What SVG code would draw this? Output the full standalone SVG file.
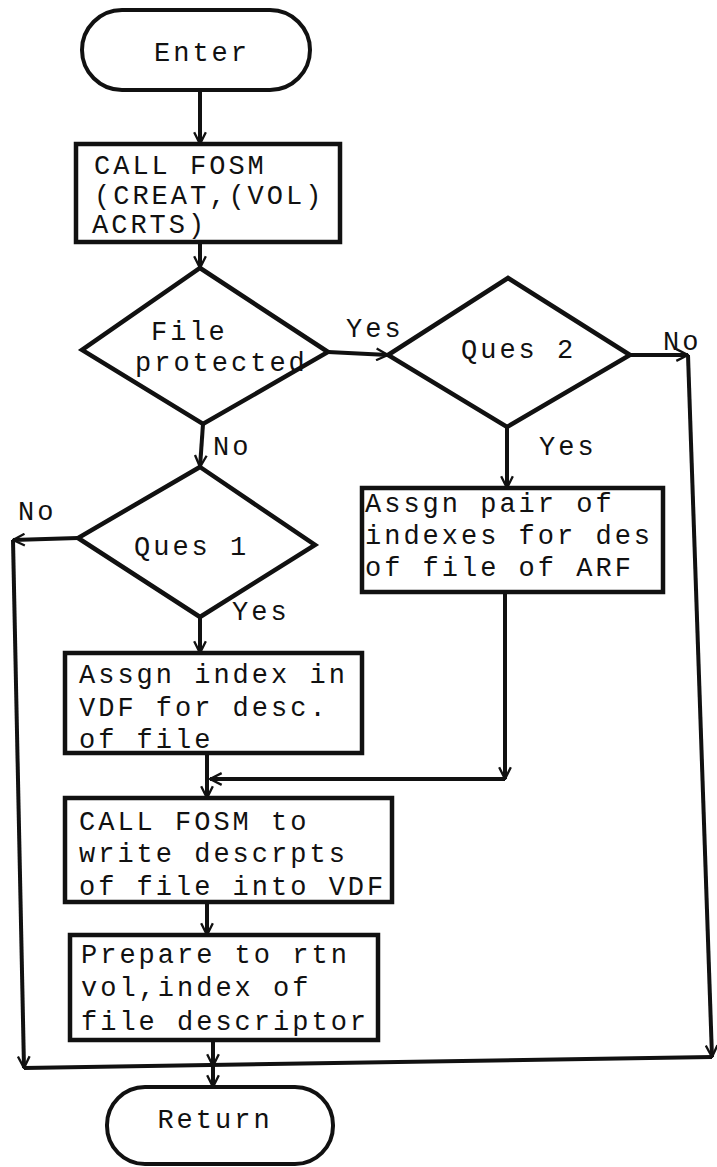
<svg xmlns="http://www.w3.org/2000/svg" width="717" height="1167" viewBox="0 0 717 1167">
<style>
.shape{fill:#fff;stroke:#111;stroke-width:4.5;stroke-linejoin:miter}
.term{fill:#fff;stroke:#111;stroke-width:4}
.t{font-family:"Liberation Mono","DejaVu Sans Mono",monospace;font-size:27px;letter-spacing:3px;fill:#111}
.c{fill:none;stroke:#111;stroke-width:4}
</style>
<defs>
<marker id="ah" viewBox="0 0 12 12" refX="11" refY="6" markerWidth="14" markerHeight="14" markerUnits="userSpaceOnUse" orient="auto">
<path d="M1,1 L11,6 L1,11" fill="none" stroke="#111" stroke-width="2"/>
</marker>
</defs>
<g id="connectors">
<path class="c" d="M200,90 V144" marker-end="url(#ah)"/>
<path class="c" d="M200,242 V268" marker-end="url(#ah)"/>
<path class="c" d="M328,352 L388,355" marker-end="url(#ah)"/>
<path class="c" d="M630,355 H688" marker-end="url(#ah)"/>
<path class="c" d="M688,355 L712,1057" marker-end="url(#ah)"/>
<path class="c" d="M507,427 V488" marker-end="url(#ah)"/>
<path class="c" d="M203,424 L200,467" marker-end="url(#ah)"/>
<path class="c" d="M78,538 L13,540" marker-end="url(#ah)"/>
<path class="c" d="M13,540 L24,1068" marker-end="url(#ah)"/>
<path class="c" d="M200,617 V653" marker-end="url(#ah)"/>
<path class="c" d="M207,753 V798" marker-end="url(#ah)"/>
<path class="c" d="M505,592 V779" marker-end="url(#ah)"/>
<path class="c" d="M505,779 H210" marker-end="url(#ah)"/>
<path class="c" d="M207,902 V935" marker-end="url(#ah)"/>
<path class="c" d="M213,1040 V1066" marker-end="url(#ah)"/>
<path class="c" d="M24,1068 L712,1057"/>
<path class="c" d="M213,1066 V1087" marker-end="url(#ah)"/>
</g>
<g id="enter">
<rect class="term" x="82" y="10" width="228" height="80" rx="40"/>
<text class="t" x="202" y="61" text-anchor="middle">Enter</text>
</g>
<g id="call-creat">
<rect class="shape" x="76" y="144" width="264" height="98"/>
<text class="t" x="94" y="174">CALL FOSM</text>
<text class="t" x="94" y="204">(CREAT,(VOL)</text>
<text class="t" x="92" y="233">ACRTS)</text>
</g>
<g id="file-protected">
<polygon class="shape" points="200,268 328,352 203,424 82,350"/>
<text class="t" x="151" y="340">File</text>
<text class="t" x="135" y="371">protected</text>
</g>
<g id="ques2">
<polygon class="shape" points="508,278 630,355 507,427 388,355"/>
<text class="t" x="461" y="358">Ques 2</text>
</g>
<g id="ques1">
<polygon class="shape" points="200,467 315,545 200,617 78,538"/>
<text class="t" x="134" y="555">Ques 1</text>
</g>
<g id="assgn-pair">
<rect class="shape" x="362" y="488" width="301" height="104"/>
<text class="t" x="365" y="512">Assgn pair of</text>
<text class="t" x="365" y="544">indexes for des</text>
<text class="t" x="365" y="576">of file of ARF</text>
</g>
<g id="assgn-index">
<rect class="shape" x="65" y="653" width="297" height="100"/>
<text class="t" x="79" y="683">Assgn index in</text>
<text class="t" x="79" y="716">VDF for desc.</text>
<text class="t" x="79" y="748">of file</text>
</g>
<g id="call-write">
<rect class="shape" x="65" y="798" width="327" height="104"/>
<text class="t" x="79" y="830">CALL FOSM to</text>
<text class="t" x="79" y="862">write descrpts</text>
<text class="t" x="79" y="895">of file into VDF</text>
</g>
<g id="prepare">
<rect class="shape" x="70" y="935" width="308" height="105"/>
<text class="t" x="81" y="963">Prepare to rtn</text>
<text class="t" x="81" y="996">vol,index of</text>
<text class="t" x="81" y="1030">file descriptor</text>
</g>
<g id="return">
<rect class="term" x="107" y="1087" width="226" height="77" rx="38"/>
<text class="t" x="215" y="1128" text-anchor="middle">Return</text>
</g>
<g id="labels">
<text class="t" x="346" y="337">Yes</text>
<text class="t" x="663" y="350">No</text>
<text class="t" x="213" y="455">No</text>
<text class="t" x="539" y="455">Yes</text>
<text class="t" x="18" y="520">No</text>
<text class="t" x="232" y="620">Yes</text>
</g>
</svg>
